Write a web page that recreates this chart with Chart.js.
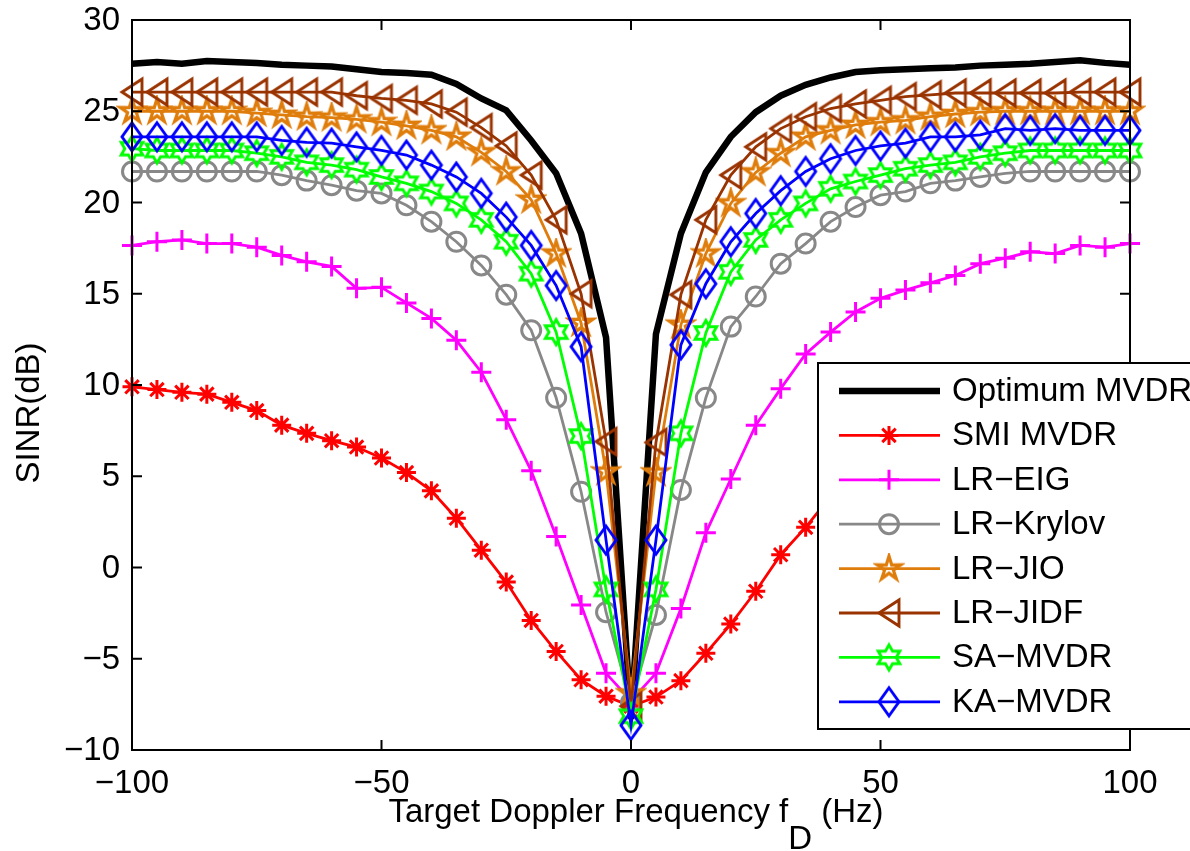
<!DOCTYPE html>
<html>
<head>
<meta charset="utf-8">
<script src="https://cdn.jsdelivr.net/npm/chart.js"></script>
<style>
  body { margin: 0; background: #fff; }
  #wrap { width: 1190px; height: 851px; }
</style>
</head>
<body>
<div id="wrap"><canvas id="sinr" width="1190" height="851"></canvas></div>
<script>
// target doppler frequency (Hz)
const freqHz = [-100,-95,-90,-85,-80,-75,-70,-65,-60,-55,-50,-45,-40,-35,-30,-25,-20,-15,-10,-5,0,
                5,10,15,20,25,30,35,40,45,50,55,60,65,70,75,80,85,90,95,100];

// SINR (dB)
const optimumMvdr = [27.6,27.7,27.6,27.75,27.7,27.65,27.55,27.5,27.45,27.3,27.15,27.1,27.0,26.5,25.7,25.05,23.4,21.6,18.3,12.6,-8.3,
                     12.8,18.3,21.65,23.6,24.95,25.85,26.45,26.85,27.15,27.25,27.3,27.35,27.4,27.5,27.55,27.6,27.7,27.8,27.65,27.55];
const smiMvdr = [9.9,9.75,9.6,9.5,9.05,8.6,7.8,7.35,6.95,6.6,6.0,5.2,4.2,2.7,0.95,-0.8,-2.9,-4.6,-6.15,-7.05,-7.6,
                 -7.1,-6.2,-4.7,-3.1,-1.3,0.7,2.2,3.9,5.0,5.8,6.5,7.0,7.5,7.9,8.5,9.0,9.4,9.6,9.8,9.9];
const lrEig = [17.65,17.85,17.95,17.75,17.75,17.55,17.1,16.75,16.5,15.3,15.35,14.5,13.65,12.45,10.7,8.1,5.3,1.7,-2.05,-5.8,-7.3,
               -5.8,-2.25,1.9,4.85,7.8,9.8,11.7,12.9,14.0,14.75,15.2,15.6,16.0,16.65,16.95,17.3,17.2,17.65,17.55,17.75];
const lrKrylov = [21.7,21.7,21.7,21.7,21.7,21.7,21.5,21.2,20.95,20.65,20.5,19.85,18.95,17.85,16.55,14.95,13.0,9.3,4.15,-2.45,-7.4,
                  -2.6,4.25,9.3,13.2,14.85,16.65,17.75,18.95,19.75,20.4,20.6,21.05,21.2,21.4,21.6,21.7,21.7,21.7,21.7,21.7];
const lrJio = [25.0,25.0,25.0,25.0,25.0,24.9,24.8,24.7,24.65,24.55,24.4,24.2,23.95,23.6,22.75,21.7,20.15,17.2,13.4,5.25,-6.9,
               5.2,13.3,17.2,19.95,21.65,22.7,23.6,23.95,24.25,24.4,24.5,24.7,24.85,24.95,25.0,25.0,25.0,25.0,25.0,25.0];
const lrJidf = [26.05,26.05,26.05,26.05,26.05,26.05,26.05,26.05,26.05,25.85,25.7,25.6,25.4,24.95,24.1,23.1,21.5,19.05,15.0,6.9,-7.6,
                6.85,14.95,19.05,21.5,23.05,24.05,24.7,25.15,25.4,25.6,25.8,25.9,26.0,26.0,26.0,26.0,26.0,26.05,26.05,26.05];
const saMvdr = [22.95,22.85,22.85,22.85,22.85,22.7,22.5,22.2,22.05,21.8,21.4,21.05,20.6,19.95,19.05,17.85,16.1,12.9,7.2,-1.2,-8.15,
                -1.2,7.35,12.85,16.2,17.95,19.05,19.95,20.75,21.15,21.5,21.85,22.05,22.2,22.5,22.7,22.85,22.85,22.85,22.85,22.85];
const kaMvdr = [23.6,23.6,23.6,23.6,23.6,23.6,23.4,23.3,23.25,23.05,22.85,22.6,22.05,21.4,20.5,19.2,17.65,15.45,12.1,1.5,-8.65,
                1.5,12.2,15.55,17.85,19.4,20.65,21.7,22.4,22.85,23.1,23.25,23.6,23.6,23.7,24.05,23.95,24.05,23.95,23.95,23.95];

const xTicks = [-100, -50, 0, 50, 100];
const yTicks = [-10, -5, 0, 5, 10, 15, 20, 25, 30];

const FONT = '"Liberation Sans", Arial, Helvetica, sans-serif';
const FSIZE = 33;

// small canvases for the matlab markers chart.js does not have
function markerCanvas(w, h, color, lw, pathFn) {
    const c = document.createElement('canvas');
    c.width = w; c.height = h;
    const g = c.getContext('2d');
    g.translate(w / 2, h / 2);
    g.strokeStyle = color;
    g.lineWidth = lw;
    g.lineJoin = 'miter';
    g.beginPath();
    pathFn(g);
    g.closePath();
    g.stroke();
    return c;
}
function starPath(n, rOut, rIn) {
    return g => {
        for (let i = 0; i < 2 * n; i++) {
            const r = i % 2 === 0 ? rOut : rIn;
            const a = -Math.PI / 2 + i * Math.PI / n;
            if (i === 0) g.moveTo(r * Math.cos(a), r * Math.sin(a));
            else g.lineTo(r * Math.cos(a), r * Math.sin(a));
        }
    };
}
const pentagram = markerCanvas(32, 32, '#df7d0c', 3.2, starPath(5, 12.5, 4.6));
const hexagram = markerCanvas(32, 32, '#00ff00', 2.9, starPath(6, 12.5, 7.2));
const leftTri = markerCanvas(28, 34, '#993300', 2.9, g => {
    g.moveTo(-10, 0); g.lineTo(10, -13); g.lineTo(10, 13);
});
const diamond = markerCanvas(28, 36, '#0000ff', 2.9, g => {
    g.moveTo(0, -14); g.lineTo(10, 0); g.lineTo(0, 14); g.lineTo(-10, 0);
});

function series(label, values, color, width, style, radius, order) {
    return {
        label: label,
        data: freqHz.map((f, i) => ({ x: f, y: values[i] })),
        borderColor: color,
        borderWidth: width,
        pointStyle: style,
        pointRadius: radius,
        pointHoverRadius: radius,
        pointBorderColor: color,
        pointBackgroundColor: 'rgba(0,0,0,0)',
        pointBorderWidth: 3,
        tension: 0,
        clip: false,
        order: order
    };
}

const datasets = [
    series('Optimum MVDR', optimumMvdr, '#000000', 6.5, false, 0, 7),
    series('SMI MVDR', smiMvdr, '#ff0000', 2.8, 'star', 9.5, 6),
    series('LR\u2212EIG', lrEig, '#ff00ff', 2.8, 'cross', 10, 5),
    series('LR\u2212Krylov', lrKrylov, '#888888', 2.8, 'circle', 9.5, 4),
    series('LR\u2212JIO', lrJio, '#df7d0c', 2.8, pentagram, 12, 3),
    series('LR\u2212JIDF', lrJidf, '#993300', 2.8, leftTri, 12, 2),
    series('SA\u2212MVDR', saMvdr, '#00ff00', 2.8, hexagram, 12, 1),
    series('KA\u2212MVDR', kaMvdr, '#0000ff', 2.8, diamond, 12, 0)
];

const minus = v => String(v).replace('-', '\u2212');

// box round the axes with inward ticks, y tick labels, axis titles
const axesBox = {
    id: 'axesBox',
    afterDatasetsDraw(chart) {
        const { ctx, chartArea: a, scales: { x, y } } = chart;
        ctx.save();
        ctx.strokeStyle = '#000';
        ctx.lineWidth = 2;
        ctx.strokeRect(a.left, a.top, a.right - a.left, a.bottom - a.top);
        ctx.beginPath();
        xTicks.forEach(t => {
            const px = x.getPixelForValue(t);
            ctx.moveTo(px, a.bottom); ctx.lineTo(px, a.bottom - 10);
            ctx.moveTo(px, a.top); ctx.lineTo(px, a.top + 10);
        });
        yTicks.forEach(t => {
            const py = y.getPixelForValue(t);
            ctx.moveTo(a.left, py); ctx.lineTo(a.left + 10, py);
            ctx.moveTo(a.right, py); ctx.lineTo(a.right - 10, py);
        });
        ctx.stroke();

        ctx.fillStyle = '#000';
        ctx.font = FSIZE + 'px ' + FONT;
        ctx.textAlign = 'right';
        ctx.textBaseline = 'middle';
        yTicks.forEach(t => ctx.fillText(minus(t), a.left - 12, y.getPixelForValue(t) + 1));

        ctx.textBaseline = 'alphabetic';
        ctx.textAlign = 'left';
        const p1 = 'Target Doppler Frequency f', p2 = 'D', p3 = ' (Hz)';
        const w1 = ctx.measureText(p1).width, w2 = ctx.measureText(p2).width, w3 = ctx.measureText(p3).width;
        const tx = (a.left + a.right) / 2 + 5 - (w1 + w2 + w3) / 2;
        ctx.fillText(p1, tx, 822);
        ctx.fillText(p2, tx + w1, 849);
        ctx.fillText(p3, tx + w1 + w2, 822);

        ctx.translate(30, 413);
        ctx.rotate(-Math.PI / 2);
        ctx.textAlign = 'center';
        ctx.textBaseline = 'middle';
        ctx.fillText('SINR(dB)', 0, 0);
        ctx.restore();
    }
};

// matlab style legend sitting over the plot
const boxLegend = {
    id: 'boxLegend',
    afterDraw(chart) {
        const ctx = chart.ctx;
        const left = 818, top = 363, bottom = 729;
        ctx.save();
        ctx.fillStyle = '#fff';
        ctx.fillRect(left, top, 400, bottom - top);
        ctx.strokeStyle = '#000';
        ctx.lineWidth = 2;
        ctx.strokeRect(left, top, 400, bottom - top);
        chart.data.datasets.forEach((ds, i) => {
            const yc = 391 + i * 44.4;
            ctx.strokeStyle = ds.borderColor;
            ctx.lineWidth = ds.borderWidth;
            ctx.beginPath();
            ctx.moveTo(839, yc); ctx.lineTo(940, yc);
            ctx.stroke();
            if (ds.pointRadius > 0) {
                ctx.fillStyle = 'rgba(0,0,0,0)';
                ctx.lineWidth = ds.pointBorderWidth;
                Chart.helpers.drawPoint(ctx, {
                    pointStyle: ds.pointStyle, radius: ds.pointRadius,
                    rotation: 0, borderWidth: ds.pointBorderWidth
                }, 889, yc);
            }
            ctx.fillStyle = '#000';
            ctx.font = FSIZE + 'px ' + FONT;
            ctx.textAlign = 'left';
            ctx.textBaseline = 'middle';
            ctx.fillText(ds.label, 952, yc + 1);
        });
        ctx.restore();
    }
};

new Chart(document.getElementById('sinr'), {
    type: 'line',
    data: { datasets: datasets },
    options: {
        responsive: false,
        animation: false,
        events: [],
        layout: { padding: { top: 20, right: 60, left: 0, bottom: 0 } },
        plugins: { legend: { display: false }, tooltip: { enabled: false } },
        scales: {
            x: {
                type: 'linear', min: -100, max: 100,
                grid: { display: false, drawTicks: false },
                border: { display: false },
                afterBuildTicks: s => { s.ticks = xTicks.map(v => ({ value: v })); },
                afterFit: s => { s.height = 101; },
                ticks: { color: '#000', padding: 14, maxRotation: 0, font: { family: FONT, size: FSIZE }, callback: minus }
            },
            y: {
                type: 'linear', min: -10, max: 30,
                grid: { display: false, drawTicks: false },
                border: { display: false },
                afterBuildTicks: s => { s.ticks = yTicks.map(v => ({ value: v })); },
                afterFit: s => { s.width = 132; },
                ticks: { display: false }
            }
        }
    },
    plugins: [axesBox, boxLegend]
});
</script>
</body>
</html>
